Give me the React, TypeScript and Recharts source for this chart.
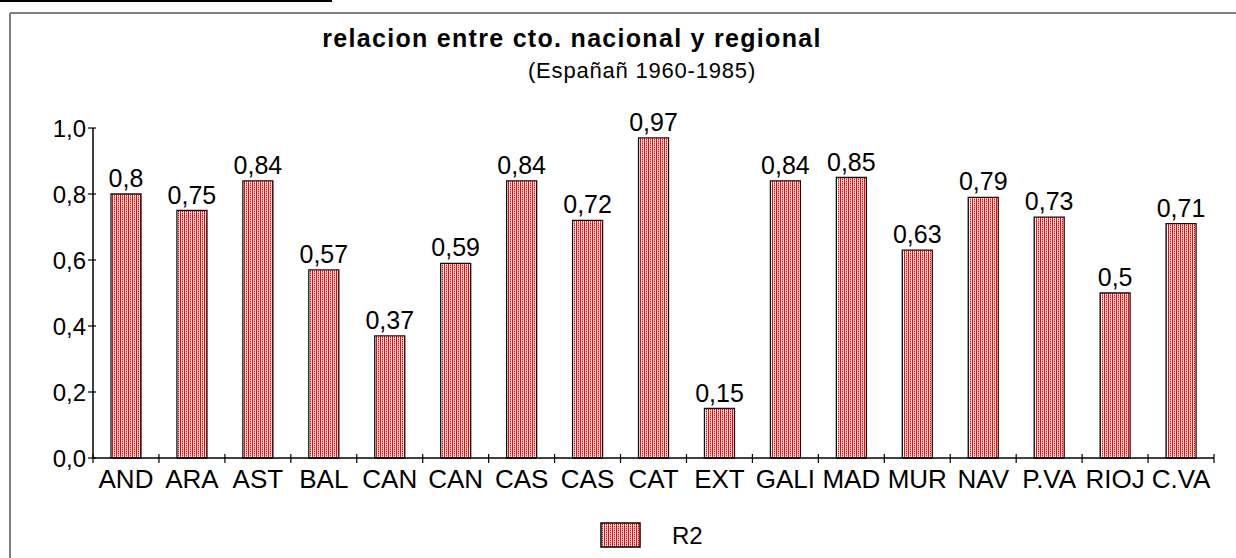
import React from 'react';
import { BarChart, Bar, XAxis, YAxis, LabelList, Legend } from 'recharts';

const categories = ['AND', 'ARA', 'AST', 'BAL', 'CAN', 'CAN', 'CAS', 'CAS', 'CAT', 'EXT', 'GALI', 'MAD', 'MUR', 'NAV', 'P.VA', 'RIOJ', 'C.VA'];
const r2Values = [0.8, 0.75, 0.84, 0.57, 0.37, 0.59, 0.84, 0.72, 0.97, 0.15, 0.84, 0.85, 0.63, 0.79, 0.73, 0.5, 0.71];
const yTicks = [0, 0.2, 0.4, 0.6, 0.8, 1.0];
const seriesName = 'R2';
const titleText = 'relacion entre cto. nacional y regional';
const subtitleText = '(Españañ 1960-1985)';

const data = categories.map((c, i) => ({ id: i, cat: c, R2: r2Values[i] }));

const FONT = '"Liberation Sans", Arial, sans-serif';
const comma = (v: any) => String(v).replace('.', ',');

const PatternDef = ({ id }: { id: string }) => (
  <pattern id={id} width="4" height="2" patternUnits="userSpaceOnUse">
    <rect width="4" height="2" fill="#fff" />
    <rect x="0" y="0" width="1" height="2" fill="#ff0000" />
    <rect x="2" y="1" width="1" height="1" fill="#ff0000" />
    <rect x="2" y="0" width="1" height="1" fill="#ff9090" />
  </pattern>
);

const XTick = (props: any) => {
  const { x, y, payload, index } = props;
  const off = payload && payload.offset ? payload.offset : 33;
  const label = categories[payload.value] ?? payload.value;
  return (
    <g>
      <line x1={x - off} x2={x - off} y1={y - 4} y2={y + 5} stroke="#000" strokeWidth={1.2} />
      {index === categories.length - 1 && (
        <line x1={x + off} x2={x + off} y1={y - 4} y2={y + 5} stroke="#000" strokeWidth={1.2} />
      )}
      <text x={x} y={y + 30} textAnchor="middle" fontSize={26} fontFamily={FONT} fill="#000">
        {label}
      </text>
    </g>
  );
};

const YTick = (props: any) => {
  const { x, y, payload } = props;
  return (
    <g>
      <line x1={x + 2} x2={x + 10} y1={y} y2={y} stroke="#000" strokeWidth={1.2} />
      <text x={x} y={y + 8.5} textAnchor="end" fontSize={24} fontFamily={FONT} fill="#000">
        {Number(payload.value).toFixed(1).replace('.', ',')}
      </text>
    </g>
  );
};

const LegendContent = (props: any) => {
  const p = props.payload && props.payload[0];
  const name = p ? p.value : seriesName;
  return (
    <svg width={1236} height={40} style={{ display: 'block' }}>
      <defs>
        <PatternDef id="dotsL" />
      </defs>
      <rect x={601} y={10} width={39} height={24} fill="url(#dotsL)" stroke="#000" strokeWidth={1.5} />
      <text x={672} y={31} fontSize={24} fontFamily={FONT} fill="#000">{name}</text>
    </svg>
  );
};

export default function App() {
  return (
    <div style={{ position: 'absolute', left: 0, top: 0, width: 1236, height: 558, background: '#fff', overflow: 'hidden' }}>
      <BarChart
        width={1236}
        height={558}
        data={data}
        margin={{ top: 128, right: 22, bottom: 30, left: 33 }}
        barCategoryGap={0}
      >
        <defs>
          <PatternDef id="dots" />
        </defs>
        <XAxis
          dataKey="id"
          type="category"
          height={30}
          axisLine={{ stroke: '#000', strokeWidth: 1.5 }}
          tickLine={false}
          tickSize={0}
          tickMargin={0}
          tick={<XTick />}
          interval={0}
        />
        <YAxis
          width={60}
          domain={[0, 1]}
          ticks={yTicks}
          axisLine={{ stroke: '#000', strokeWidth: 1.5 }}
          tickLine={false}
          tickSize={5}
          tickMargin={2}
          tick={<YTick />}
          interval={0}
        />
        <Legend
          verticalAlign="bottom"
          height={40}
          content={<LegendContent />}
          wrapperStyle={{ left: 0, bottom: 5, width: 1236 }}
        />
        <Bar
          dataKey="R2"
          name={seriesName}
          barSize={30}
          fill="url(#dots)"
          stroke="#111"
          strokeWidth={1.3}
          isAnimationActive={false}
        >
          <LabelList
            dataKey="R2"
            position="top"
            offset={7}
            formatter={comma}
            style={{ fontSize: 25, fontFamily: FONT, fill: '#000' }}
          />
        </Bar>
      </BarChart>
      <svg
        width={1236}
        height={558}
        style={{ position: 'absolute', left: 0, top: 0, pointerEvents: 'none' }}
      >
        <line x1={0} x2={332} y1={1} y2={1} stroke="#000" strokeWidth={2} />
        <line x1={10} x2={1236} y1={13} y2={13} stroke="#808080" strokeWidth={2} />
        <line x1={10} x2={10} y1={13} y2={558} stroke="#808080" strokeWidth={2} />
        <text x={572} y={47} textAnchor="middle" fontSize={25} fontWeight="bold" letterSpacing={1.3} fontFamily={FONT} fill="#000">
          {titleText}
        </text>
        <text x={642} y={78} textAnchor="middle" fontSize={22} letterSpacing={0.8} fontFamily={FONT} fill="#000">
          {subtitleText}
        </text>
      </svg>
    </div>
  );
}
